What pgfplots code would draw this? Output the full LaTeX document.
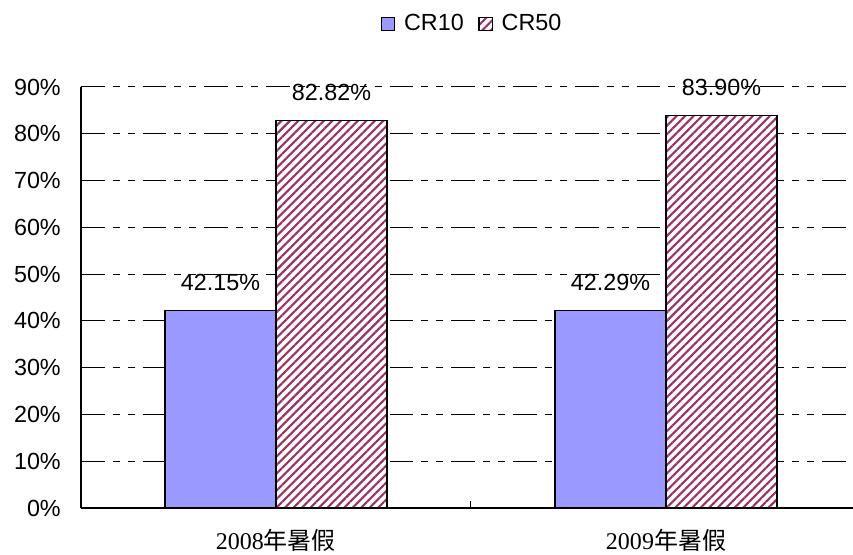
\documentclass[border=0pt]{standalone}
\usepackage{pgfplots}
\pgfplotsset{compat=1.18}
\usetikzlibrary{patterns.meta}
\usepackage{fontspec}
\setmainfont{Liberation Sans}
\newfontfamily\cjk{Noto Sans CJK SC}
\newfontfamily\serifnum{Liberation Serif}
\definecolor{crblue}{HTML}{9999FF}
\definecolor{crplum}{HTML}{993366}
\newcommand{\lbl}{\fontsize{17.5}{21}\selectfont}

\begin{document}
\begin{tikzpicture}
\begin{axis}[
    scale only axis,
    width=579pt, height=315.75pt,
    ybar=0pt, bar width=83.25pt,
    xmin=-0.5, xmax=1.4795, ymin=0, ymax=90,
    enlargelimits=false,
    axis x line*=bottom, axis y line*=left,
    axis line style={-, line width=0.8pt},
    /pgf/number format/assume math mode=true,
    xtick={0,1},
    xticklabels={{\serifnum 2008}{\cjk 年暑假}, {\serifnum 2009}{\cjk 年暑假}},
    xticklabel style={anchor=base, yshift=-31.5pt, inner sep=0pt, font=\fontsize{18}{21}\selectfont},
    minor xtick={0.5},
    tick align=inside,
    major tick length=0pt, minor tick length=5.25pt,
    minor tick style={black, line width=0.75pt},
    ytick={0,10,...,90},
    yticklabel={\pgfmathprintnumber{\tick}\%},
    yticklabel style={anchor=east, inner sep=0pt, xshift=-15pt, font=\lbl},
    ymajorgrids,
    major grid style={black, line width=0.75pt,
        dash pattern=on 17.8pt off 6pt on 5.25pt off 6pt on 5.25pt off 6pt},
    nodes near coords={\pgfmathprintnumber[fixed,fixed zerofill,precision=2]{\pgfplotspointmeta}\%},
    every node near coord/.append style={inner sep=0pt, yshift=14.25pt, font=\lbl, black},
    legend style={at={(0.507,1.15)}, anchor=center, draw=none, fill=none,
        legend columns=-1, font=\lbl,
        /tikz/every even column/.append style={column sep=9pt}},
    sq legend/.style={legend image code/.code={%
        \draw[##1, line width=1pt] (0pt,-5pt) rectangle (10pt,5pt);
        \pgfpathmoveto{\pgfpoint{15pt}{0pt}}\pgfusepath{discard}}},
]
\addplot[sq legend, draw=black, line width=1pt, fill=crblue]
    coordinates {(0,42.15) (1,42.29)};
\addplot[sq legend, draw=black, line width=1pt, fill=white,
    postaction={pattern={Lines[angle=45,distance=4.5pt,line width=1.6pt]}, pattern color=crplum}]
    coordinates {(0,82.82) (1,83.90)};
\legend{CR10, CR50}
\coordinate (o) at (rel axis cs:0,0);
\end{axis}
\pgfresetboundingbox
\path[use as bounding box] ([shift={(-60.75pt,-35.25pt)}]o) rectangle ([shift={(579pt,381pt)}]o);
\end{tikzpicture}
\end{document}
